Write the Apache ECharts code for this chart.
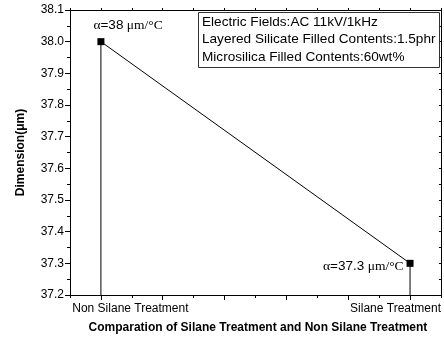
<!DOCTYPE html>
<html>
<head>
<meta charset="utf-8">
<script src="https://cdn.jsdelivr.net/npm/echarts@6/dist/echarts.min.js"></script>
<style>
  html, body { margin: 0; padding: 0; background: #fff; }
  #chart { width: 444px; height: 339px; }
</style>
</head>
<body>
<div id="chart"></div>
<script>
// data
const treatments = ['Non Silane Treatment', 'Silane Treatment'];
const xPos = [1, 2];
const dimension = [38.0, 37.3];
const alphaValues = ['38', '37.3'];
const yMin = 37.2;
const yMax = 38.1;
const xMajorTicks = [1.0, 1.2, 1.4, 1.6, 1.8, 2.0];
const xMinorTicks = [0.9, 1.1, 1.3, 1.5, 1.7, 1.9, 2.1];
const xAllTicks = [0.9, 1.0, 1.1, 1.2, 1.3, 1.4, 1.5, 1.6, 1.7, 1.8, 1.9, 2.0, 2.1];
const infoLines = [
  'Electric Fields:AC 11kV/1kHz',
  'Layered Silicate Filled Contents:1.5phr',
  'Microsilica Filled Contents:60wt%'
];

const sans = 'Liberation Sans, Arial, sans-serif';
const serif = 'Liberation Serif, Times New Roman, serif';

const chart = echarts.init(document.getElementById('chart'), null, { renderer: 'canvas' });

const alphaRich = {
  g: { fontFamily: serif, fontSize: 13.5, color: '#000' },
  n: { fontFamily: sans, fontSize: 13.5, color: '#000' }
};
const alphaText = (v) => '{g|α}{n|=' + v + '}{g| μm/°C}';

// vertical drop lines from each point to the bottom axis
const dropSeries = xPos.map((x, i) => ({
  type: 'line',
  data: [[x, yMin], [x, dimension[i]]],
  symbol: 'none',
  silent: true,
  lineStyle: { color: '#000', width: 1 },
  z: 1
}));

const option = {
  animation: false,
  title: {
    text: infoLines.join('\n'),
    left: 198,
    top: 12,
    padding: [1, 4, 1, 4],
    borderWidth: 1,
    borderColor: '#333',
    textStyle: { fontFamily: sans, fontSize: 13.6, fontWeight: 'normal', color: '#000', lineHeight: 17.8 }
  },
  grid: { left: 70, right: 1, top: 10, bottom: 39 },
  xAxis: [
    {
      type: 'value',
      min: 0.9,
      max: 2.1,
      position: 'bottom',
      axisLine: { show: true, lineStyle: { color: '#000', width: 1 } },
      axisTick: { show: true, customValues: xMajorTicks, length: 5, lineStyle: { color: '#000' } },
      splitLine: { show: false },
      axisLabel: {
        customValues: xPos,
        margin: 8,
        formatter: (v) => {
          const i = xPos.findIndex(p => Math.abs(p - v) < 1e-6);
          if (i < 0) return '';
          return i === 0 ? '{l|' + treatments[i] + '}' : '{r|' + treatments[i] + '}';
        },
        rich: {
          l: { fontFamily: sans, fontSize: 12, color: '#000', padding: [0, 0, 0, 59] },
          r: { fontFamily: sans, fontSize: 12, color: '#000', padding: [0, 29, 0, 0] }
        }
      },
      name: 'Comparation of Silane Treatment and Non Silane Treatment',
      nameLocation: 'middle',
      nameGap: 27,
      nameTextStyle: { fontFamily: sans, fontSize: 12, fontWeight: 'bold', color: '#000', padding: [0, 0, 0, 5] }
    },
    {
      // short bottom ticks
      type: 'value',
      min: 0.9,
      max: 2.1,
      position: 'bottom',
      axisLine: { show: false },
      axisTick: { show: true, customValues: xMinorTicks, length: 3, lineStyle: { color: '#000' } },
      axisLabel: { show: false },
      splitLine: { show: false }
    },
    {
      // frame top
      type: 'value',
      min: 0.9,
      max: 2.1,
      position: 'top',
      axisLine: { show: true, lineStyle: { color: '#000', width: 1 } },
      axisTick: { show: true, customValues: xAllTicks, length: 2, lineStyle: { color: '#000' } },
      axisLabel: { show: false },
      splitLine: { show: false }
    }
  ],
  yAxis: [
    {
      type: 'value',
      min: yMin,
      max: yMax,
      interval: 0.1,
      position: 'left',
      axisLine: { show: true, lineStyle: { color: '#000', width: 1 } },
      axisTick: { show: true, length: 5, lineStyle: { color: '#000' } },
      minorTick: { show: true, splitNumber: 2, length: 3, lineStyle: { color: '#000' } },
      splitLine: { show: false },
      axisLabel: {
        margin: 6,
        fontFamily: sans,
        fontSize: 12,
        color: '#000',
        formatter: (v) => v.toFixed(1)
      },
      name: 'Dimension(μm)',
      nameLocation: 'middle',
      nameGap: 43,
      nameTextStyle: { fontFamily: sans, fontSize: 12, fontWeight: 'bold', color: '#000' }
    },
    {
      // frame right
      type: 'value',
      min: yMin,
      max: yMax,
      interval: 0.1,
      position: 'right',
      axisLine: { show: true, lineStyle: { color: '#000', width: 1 } },
      axisTick: { show: true, inside: true, length: 2, lineStyle: { color: '#000' } },
      minorTick: { show: true, splitNumber: 2, length: 2, lineStyle: { color: '#000' } },
      axisLabel: { show: false },
      splitLine: { show: false }
    }
  ],
  series: [
    ...dropSeries,
    {
      type: 'line',
      data: xPos.map((x, i) => ({
        value: [x, dimension[i]],
        label: i === 0
          ? { show: true, position: [-4, -13], align: 'left', verticalAlign: 'middle', formatter: alphaText(alphaValues[i]), rich: alphaRich }
          : { show: true, position: 'left', distance: 3, offset: [0, 3], formatter: alphaText(alphaValues[i]), rich: alphaRich }
      })),
      symbol: 'rect',
      symbolSize: 7,
      itemStyle: { color: '#000' },
      lineStyle: { color: '#000', width: 1 },
      z: 3
    }
  ]
};

chart.setOption(option);
</script>
</body>
</html>
